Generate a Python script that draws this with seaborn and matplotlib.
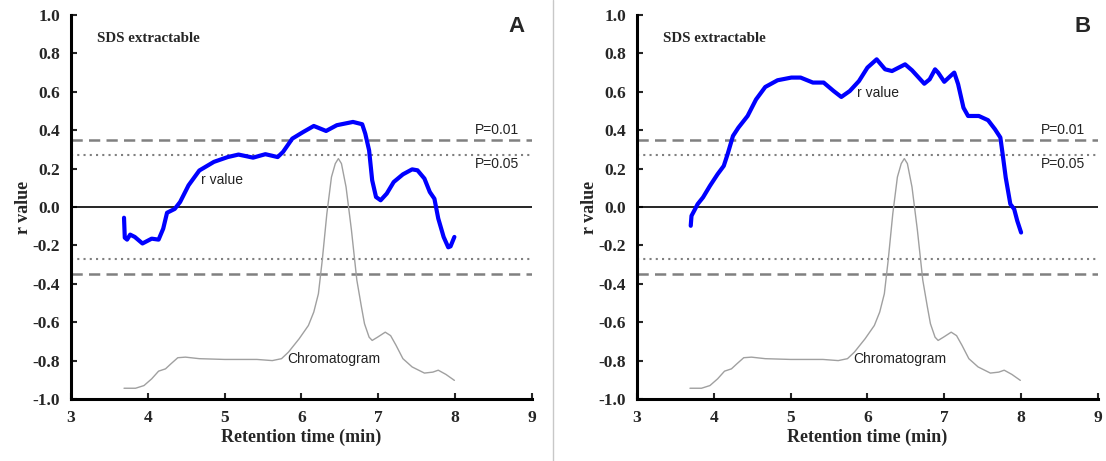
import numpy as np
import pandas as pd
import matplotlib
matplotlib.use("Agg")
import matplotlib.pyplot as plt
import seaborn as sns
from matplotlib.lines import Line2D

# ---- data ----
rA_x = [3.69, 3.70, 3.73, 3.77, 3.83, 3.93, 4.05, 4.14, 4.20, 4.25, 4.35, 4.42, 4.53, 4.67, 4.86,
        5.04, 5.18, 5.37, 5.53, 5.69, 5.76, 5.88, 6.02, 6.16, 6.32, 6.46, 6.67, 6.79, 6.83, 6.88,
        6.92, 6.97, 7.03, 7.11, 7.20, 7.32, 7.44, 7.51, 7.60, 7.67, 7.73, 7.78, 7.85, 7.91, 7.94, 7.99]
rA_y = [-0.056, -0.16, -0.17, -0.144, -0.156, -0.19, -0.165, -0.17, -0.113, -0.03, -0.01, 0.026, 0.113,
        0.19, 0.235, 0.26, 0.273, 0.257, 0.275, 0.26, 0.287, 0.356, 0.39, 0.422, 0.396, 0.426, 0.443,
        0.431, 0.382, 0.295, 0.139, 0.052, 0.035, 0.07, 0.13, 0.17, 0.196, 0.191, 0.148, 0.078, 0.043,
        -0.06, -0.156, -0.21, -0.205, -0.156]

rB_x = [3.70, 3.71, 3.75, 3.79, 3.86, 3.95, 4.05, 4.13, 4.18, 4.25, 4.32, 4.44, 4.55, 4.67, 4.83,
        5.01, 5.13, 5.29, 5.43, 5.56, 5.66, 5.77, 5.89, 6.00, 6.12, 6.23, 6.32, 6.49, 6.58, 6.74,
        6.81, 6.88, 6.92, 7.00, 7.08, 7.13, 7.18, 7.25, 7.31, 7.45, 7.57, 7.66, 7.73, 7.76, 7.80,
        7.86, 7.91, 7.95, 8.00]
rB_y = [-0.098, -0.046, -0.016, 0.015, 0.05, 0.11, 0.171, 0.214, 0.275, 0.37, 0.413, 0.474, 0.56,
        0.625, 0.66, 0.674, 0.674, 0.648, 0.648, 0.604, 0.573, 0.604, 0.656, 0.726, 0.769, 0.717,
        0.708, 0.743, 0.712, 0.642, 0.665, 0.717, 0.70, 0.652, 0.682, 0.70, 0.64, 0.517, 0.474,
        0.474, 0.452, 0.405, 0.362, 0.275, 0.153, 0.015, -0.011, -0.072, -0.133]

chrom_x = [3.69, 3.84, 3.95, 4.05, 4.14, 4.23, 4.30, 4.39, 4.49, 4.67, 5.00, 5.42, 5.62, 5.74, 5.83,
           5.97, 6.09, 6.16, 6.22, 6.27, 6.33, 6.39, 6.44, 6.48, 6.52, 6.58, 6.65, 6.72, 6.78, 6.82,
           6.88, 6.92, 6.99, 7.09, 7.16, 7.23, 7.32, 7.44, 7.60, 7.71, 7.78, 7.88, 7.99]
chrom_y = [-0.944, -0.944, -0.93, -0.895, -0.855, -0.843, -0.817, -0.785, -0.782, -0.79, -0.794,
           -0.794, -0.80, -0.79, -0.756, -0.686, -0.617, -0.547, -0.452, -0.278, -0.035, 0.156,
           0.226, 0.252, 0.226, 0.104, -0.12, -0.38, -0.52, -0.608, -0.678, -0.695, -0.678, -0.652,
           -0.67, -0.72, -0.79, -0.833, -0.865, -0.86, -0.85, -0.872, -0.903]

p01 = 0.35
p05 = 0.27
panel_labels = ["A", "B"]
x_ticks = [3, 4, 5, 6, 7, 8, 9]
y_ticks = [-1.0, -0.8, -0.6, -0.4, -0.2, 0.0, 0.2, 0.4, 0.6, 0.8, 1.0]

sns.set_style("white")
plt.rcParams['font.family'] = ['Liberation Serif', 'DejaVu Serif']

fig = plt.figure(figsize=(11.06, 4.61), dpi=100)
axA = fig.add_axes([0.0642, 0.1345, 0.4168, 0.8330])
axB = fig.add_axes([0.5759, 0.1345, 0.4168, 0.8330])

# separator line between panels
fig.add_artist(Line2D([0.5, 0.5], [0.0, 1.0], transform=fig.transFigure, color="#c8c8c8", lw=1))

rA = pd.DataFrame({"x": rA_x, "y": rA_y})
rB = pd.DataFrame({"x": rB_x, "y": rB_y})
ch = pd.DataFrame({"x": chrom_x, "y": chrom_y})

configs = [
    (axA, rA, panel_labels[0], (4.97, 0.14)),
    (axB, rB, panel_labels[1], (6.14, 0.596)),
]

for ax, rdf, lab, rpos in configs:
    ax.set_xlim(3, 9)
    ax.set_ylim(-1.0, 1.0)
    for s in [p01, -p01]:
        ax.axhline(s, color="#808080", lw=1.8, ls=(0, (4.5, 2.5)), zorder=1)
    for s in [p05, -p05]:
        ax.axhline(s, color="#808080", lw=1.5, ls=(0, (1, 2)), zorder=1)
    ax.axhline(0, color="black", lw=1.2, zorder=1)
    sns.lineplot(data=ch, x="x", y="y", ax=ax, color="#a0a0a0", lw=1.0, sort=False,
                 estimator=None, zorder=2, solid_joinstyle="round")
    sns.lineplot(data=rdf, x="x", y="y", ax=ax, color="#0000ff", lw=3.0, sort=False,
                 estimator=None, zorder=3, solid_joinstyle="round", solid_capstyle="round")

    ax.set_xticks(x_ticks)
    ax.set_yticks(y_ticks)
    ax.set_xticklabels([str(t) for t in x_ticks])
    ax.set_yticklabels([f"{t:.1f}" for t in y_ticks])
    ax.tick_params(direction="in", length=4, width=1.5, labelsize=12.5, pad=8,
                   left=True, bottom=True)
    for t in ax.get_xticklabels() + ax.get_yticklabels():
        t.set_fontweight("bold")
    ax.set_xlabel("Retention time (min)", fontsize=13, fontweight="bold", labelpad=2)
    ax.set_ylabel("r value", fontsize=13, fontweight="bold", labelpad=0)
    for side in ["top", "right"]:
        ax.spines[side].set_visible(False)
    for side in ["left", "bottom"]:
        ax.spines[side].set_linewidth(2.2)
        ax.spines[side].set_color("black")

    ax.text(3.34, 0.88, "SDS extractable", fontsize=10.8, fontweight="bold",
            ha="left", va="center")
    ax.text(8.8, 0.94, lab, fontsize=16, fontweight="bold", ha="center", va="center",
            family=["Liberation Sans", "DejaVu Sans"])
    ax.text(8.55, 0.40, "P=0.01", fontsize=10, ha="center", va="center",
            family=["Liberation Sans", "DejaVu Sans"], color="#222222")
    ax.text(8.55, 0.225, "P=0.05", fontsize=10, ha="center", va="center",
            family=["Liberation Sans", "DejaVu Sans"], color="#222222")
    ax.text(rpos[0], rpos[1], "r value", fontsize=10, ha="center", va="center",
            family=["Liberation Sans", "DejaVu Sans"], color="#222222")
    ax.text(6.42, -0.79, "Chromatogram", fontsize=10, ha="center", va="center",
            family=["Liberation Sans", "DejaVu Sans"], color="#222222")

fig.savefig("out.png", dpi=100)
